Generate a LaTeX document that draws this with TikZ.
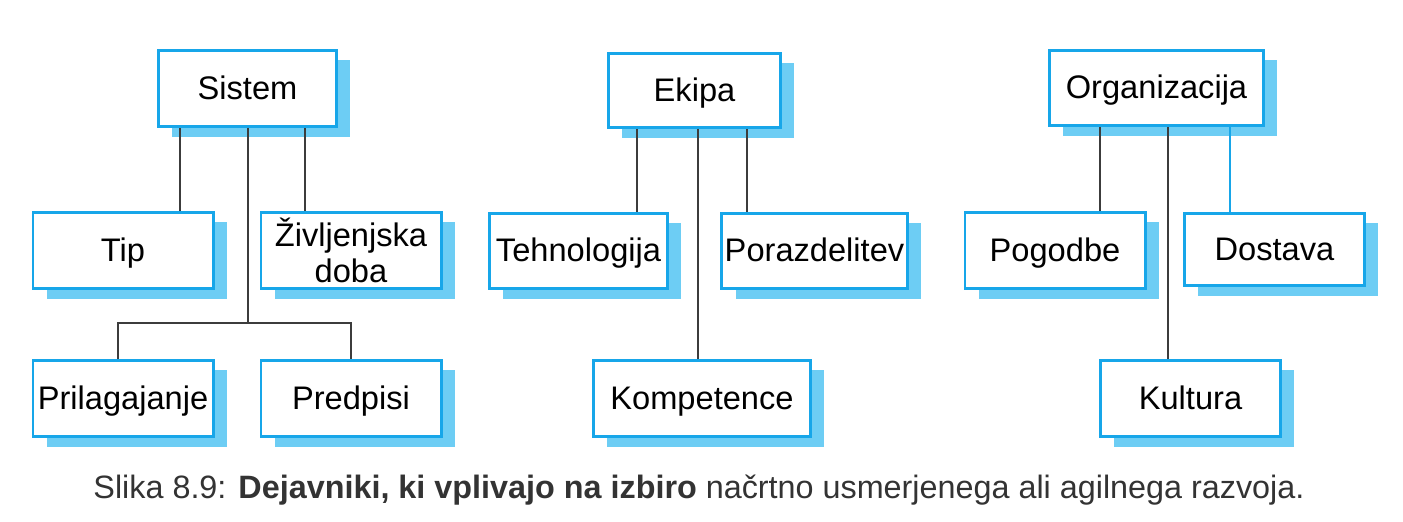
\documentclass[tikz,border=0pt]{standalone}
\usepackage{fontspec}
\setmainfont{Liberation Sans}
\usetikzlibrary{shadows}

\definecolor{boxblue}{HTML}{17A6E9}
\definecolor{shadowblue}{HTML}{6DCDF4}
\definecolor{linegray}{HTML}{3C3C3C}
\definecolor{captiongray}{HTML}{333333}

\begin{document}
\begin{tikzpicture}[
    x=0.025cm, y=-0.025cm,
    plainbox/.style={rectangle, draw=boxblue, line width=2.1pt, fill=white,
        minimum width=4.5cm, minimum height=1.9cm, inner sep=2pt,
        font=\fontsize{23.2}{26}\selectfont, align=center,
        drop shadow={shadow xshift=0.34cm, shadow yshift=-0.25cm, fill=shadowblue, opacity=1}},
    box/.style={plainbox, text height=19pt, text depth=4pt},
    link/.style={draw=linegray, line width=1.4pt},
    bluelink/.style={draw=boxblue, line width=1.4pt}
]
\useasboundingbox (0,0) rectangle (1403,521);

% Sistem
\node[box, minimum width=4.45cm] (sistem) at (247.5, 88.5) {Sistem};
\node[box] (tip) at (123, 250.5) {Tip};
\node[plainbox] (zivlj) at (351, 250.5) {Življenjska\\doba};
\node[box] (prilag) at (123, 398.5) {Prilagajanje};
\node[box] (predpisi) at (351, 398.5) {Predpisi};
\coordinate (sbranch) at (248, 323);
\draw[link] (sistem.south -| 180,0) -- (tip.north -| 180,0);
\draw[link] (sistem.south -| 305,0) -- (zivlj.north -| 305,0);
\draw[link] (sistem.south -| sbranch) -- (sbranch);
\draw[link] (prilag.north -| 118,0) |- (sbranch) -| (predpisi.north -| 351,0);

% Ekipa
\node[box, minimum width=4.3cm, minimum height=1.85cm] (ekipa) at (694.5, 90.5) {Ekipa};
\node[box, minimum width=4.45cm, minimum height=1.875cm] (tehno) at (578.5, 251) {Tehnologija};
\node[box, minimum height=1.875cm] (porazd) at (814.5, 251) {Porazdelitev};
\node[box, minimum width=5.43cm] (kompet) at (702, 398.5) {Kompetence};
\draw[link] (ekipa.south -| 637,0) -- (tehno.north -| 637,0);
\draw[link] (ekipa.south -| 698,0) -- (kompet.north -| 698,0);
\draw[link] (ekipa.south -| 747,0) -- (porazd.north -| 747,0);

% Organizacija
\node[box, minimum width=5.35cm, minimum height=1.875cm] (organiz) at (1156.5, 88) {Organizacija};
\node[box] (pogodbe) at (1055, 250.5) {Pogodbe};
\node[box, minimum height=1.8cm] (dostava) at (1274.5, 249.5) {Dostava};
\node[box] (kultura) at (1190.5, 398.5) {Kultura};
\draw[link] (organiz.south -| 1100,0) -- (pogodbe.north -| 1100,0);
\draw[link] (organiz.south -| 1168,0) -- (kultura.north -| 1168,0);
\draw[bluelink] (organiz.south -| 1230,0) -- (dostava.north -| 1230,0);

% Caption
\node[anchor=base, text=captiongray, font=\fontsize{23}{26}\selectfont, inner sep=0pt] (caption) at (699, 498)
    {Slika 8.9: \textbf{Dejavniki, ki vplivajo na izbiro} načrtno usmerjenega ali agilnega razvoja.};

\end{tikzpicture}
\end{document}
